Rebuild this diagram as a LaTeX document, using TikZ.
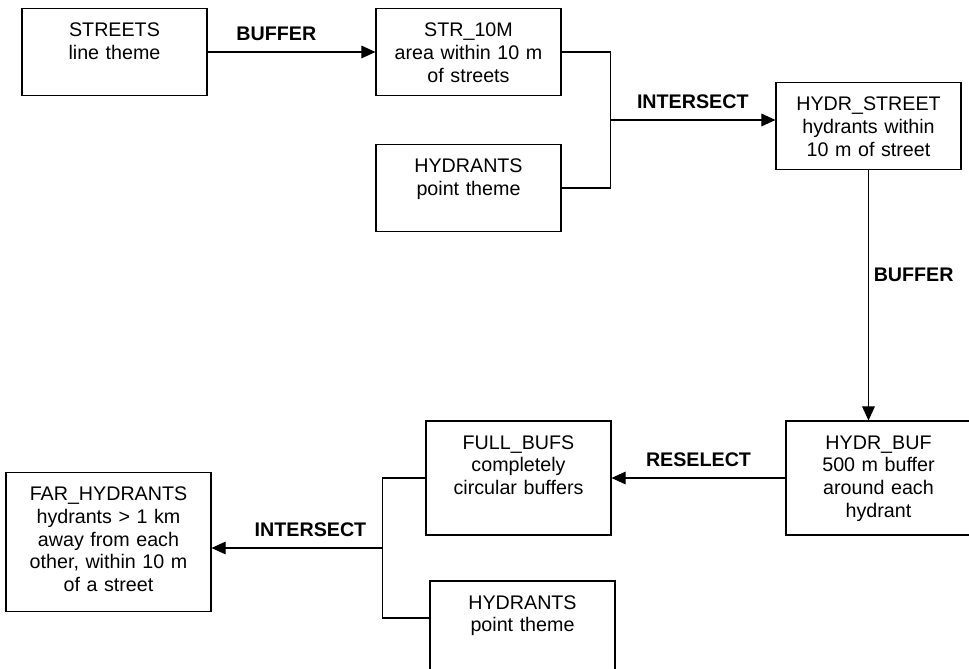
\documentclass[tikz,border=0pt]{standalone}
\usepackage{fontspec}
\setmainfont{Liberation Sans}
\usepackage{tikz}
\usetikzlibrary{arrows.meta}
\tikzstyle{layer} = [rectangle,
minimum width=4.625cm,
text width=4.625cm,
inner xsep=0pt, inner ysep=0pt,
text height=0.7cm,
align=center,
font=\fontsize{14}{16.2}\selectfont,
draw=black,thick]
\tikzstyle{low} = [text depth=1.475cm]
\tikzstyle{high} = [text depth=2.15cm]
\tikzstyle{higher} = [text depth=2.775cm]
\tikzstyle{wide} = [minimum width=5.125cm, text width=5.125cm]
\tikzstyle{op} = [font=\fontsize{14}{16}\selectfont\bfseries]
\tikzstyle{arrow} = [thick,->,>={Triangle[length=10pt,width=9pt]}]

\begin{document}
\begin{tikzpicture}[node distance=9cm]
\useasboundingbox (-2.8625,1.3) rectangle (21.3625,-15.425);

\node (streets) [layer, low] {STREETS\\line theme};
\node (str10m) [layer, low, right of=streets, xshift=-0.15cm] {STR\_10M\\area within 10 m\\of streets};
\node (hydr1) [layer, low, node distance=3.4cm, below of=str10m] {HYDRANTS\\point theme};
\node (hydrstreet) [layer, low, right of=str10m, xshift=1cm, yshift=-1.85cm] {HYDR\_STREET\\hydrants within\\10 m of street};
\node (hydrbuf) [layer, high, node distance=8.8cm, below of=hydrstreet, xshift=0.25cm] {HYDR\_BUF\\500 m buffer\\around each\\hydrant};
\node (fullbufs) [layer, high, left of=hydrbuf] {FULL\_BUFS\\completely\\circular buffers};
\node (hydr2) [layer, high, node distance=4cm, below of=fullbufs, xshift=0.1cm] {HYDRANTS\\point theme};
\node (farhyd) [layer, higher, wide, left of=fullbufs, xshift=-1.25cm, yshift=-1.6cm] {FAR\_HYDRANTS\\hydrants > 1 km\\away from each\\other, within 10 m\\of a street};
\node (join1) [coordinate, node distance=3.54cm, right of=str10m, yshift=-1.7cm] {};
\node (join2) [coordinate, node distance=3.41cm, left of=fullbufs, yshift=-1.75cm] {};

\draw [arrow] (streets) -- (str10m) node[op, pos=0.41, above=4pt] {BUFFER};
\draw [thick] (str10m) -| (join1) |- (hydr1);
\draw [arrow] (join1) -- (join1 -| hydrstreet.west) node[op, midway, above=4pt] {INTERSECT};
\draw [arrow] (hydrstreet.south) -- (hydrstreet.south |- hydrbuf.north) node[op, pos=0.42, right] {BUFFER};
\draw [arrow] (hydrbuf) -- (fullbufs) node[op, midway, above=4pt] {RESELECT};
\draw [thick] (fullbufs) -| (join2) |- ([yshift=0.5cm]hydr2.west);
\draw [arrow] (join2) -- (join2 -| farhyd.east) node[op, pos=0.42, above=4pt] {INTERSECT};

\end{tikzpicture}
\end{document}
